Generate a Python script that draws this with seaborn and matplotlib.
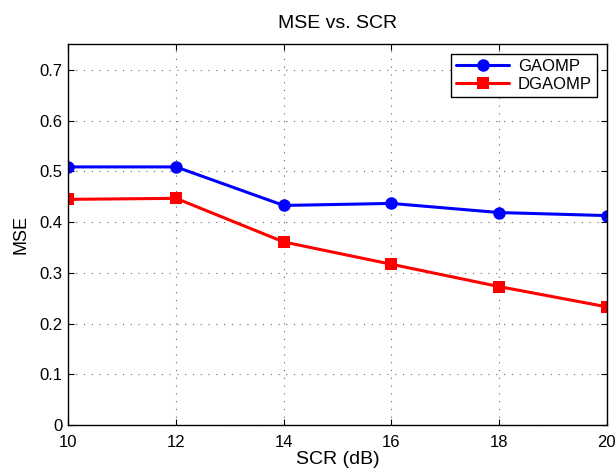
import matplotlib
matplotlib.use("Agg")
import matplotlib.pyplot as plt
import seaborn as sns
import pandas as pd

# Signal-to-clutter ratio sweep and reconstruction error of both methods
scr_db = [10, 12, 14, 16, 18, 20]
mse_gaomp = [0.509, 0.509, 0.433, 0.437, 0.419, 0.413]
mse_dgaomp = [0.445, 0.447, 0.361, 0.317, 0.273, 0.233]
methods = ["GAOMP", "DGAOMP"]
x_ticks = [10, 12, 14, 16, 18, 20]
y_ticks = [0, 0.1, 0.2, 0.3, 0.4, 0.5, 0.6, 0.7]

df = pd.DataFrame({
    "SCR": scr_db * 2,
    "MSE": mse_gaomp + mse_dgaomp,
    "Method": [methods[0]] * len(scr_db) + [methods[1]] * len(scr_db),
})

sns.set_style("white")
plt.rcParams["font.family"] = ["Liberation Sans", "DejaVu Sans"]
plt.rcParams["text.color"] = "black"
plt.rcParams["axes.labelcolor"] = "black"

fig = plt.figure(figsize=(6.16, 4.72), dpi=100)
ax = fig.add_axes([0.111, 0.0996, 0.874, 0.8078])

sns.lineplot(
    data=df, x="SCR", y="MSE", hue="Method", style="Method",
    palette={"GAOMP": "#0000ff", "DGAOMP": "#ff0000"},
    markers={"GAOMP": "o", "DGAOMP": "s"}, dashes=False,
    linewidth=2.2, markersize=9, markeredgewidth=0, ax=ax,
)

ax.set_xlim(10, 20)
ax.set_ylim(0, 0.752)
ax.set_xticks(x_ticks)
ax.set_xticklabels([str(t) for t in x_ticks])
ax.set_yticks(y_ticks)
ax.set_yticklabels(["0"] + [f"{t:.1f}" for t in y_ticks[1:]])
ax.grid(True, linestyle=(0, (1, 6)), color="#666666", linewidth=0.8)
ax.tick_params(axis="both", which="both", direction="in", length=4,
               top=True, right=True, left=True, bottom=True,
               labelsize=12, colors="black", width=0.8)
ax.tick_params(axis="x", pad=7)
ax.tick_params(axis="y", pad=4.5)
for side in ax.spines.values():
    side.set_visible(True)
    side.set_color("black")
    side.set_linewidth(1.0)

ax.set_title("MSE vs. SCR", fontsize=14, pad=11, color="black")
ax.set_xlabel("SCR (dB)", fontsize=14, labelpad=1, color="black")
ax.set_ylabel("MSE", fontsize=13, labelpad=7, color="black")

leg = ax.legend(loc="upper right", fontsize=12, frameon=True, fancybox=False,
                edgecolor="black", framealpha=1, handlelength=3.2,
                borderpad=0.3, labelspacing=0.2, handletextpad=0.5,
                borderaxespad=0.6)
leg.get_frame().set_linewidth(1.0)
for t in leg.get_texts():
    t.set_color("black")

fig.savefig("out.png", dpi=100)
